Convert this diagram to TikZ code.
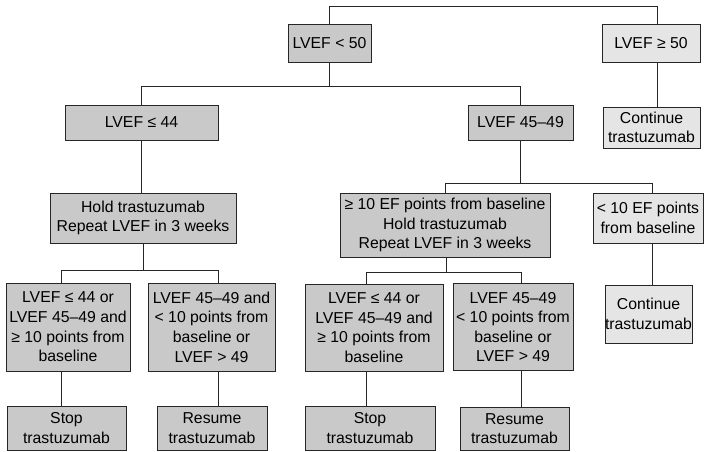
\documentclass[tikz,border=0pt]{standalone}
\usepackage{fontspec}
\setmainfont{Liberation Sans}
\begin{document}
\begin{tikzpicture}[x=1pt,y=-1pt,
  box/.style={draw=black!85,line width=0.8pt,align=center,inner sep=0pt,
     font=\fontsize{15.8}{19.6}\selectfont,anchor=center},
  dark/.style={box,fill=black!21},
  light/.style={box,fill=black!10},
  conn/.style={draw=black!85,line width=0.8pt}]
\useasboundingbox (0,0) rectangle (705,451);
\node[dark,minimum width=83,minimum height=38] (n50) at (329.5,43) {LVEF < 50};
\node[light,minimum width=98,minimum height=38] (g50) at (651,43) {LVEF ≥ 50};
\node[dark,minimum width=153,minimum height=35] (le44) at (141.5,122.5) {LVEF ≤ 44};
\node[dark,minimum width=105,minimum height=35] (m4549) at (520.5,122.5) {LVEF 45–49};
\node[light,minimum width=97,minimum height=41] (cont1) at (651.5,127.5) {Continue\\trastuzumab};
\node[dark,minimum width=186,minimum height=50] (hold) at (143,218) {Hold trastuzumab\\Repeat LVEF in 3 weeks};
\node[dark,minimum width=210,minimum height=64] (ge10) at (445,225) {≥ 10 EF points from baseline\\Hold trastuzumab\\Repeat LVEF in 3 weeks};
\node[light,minimum width=110,minimum height=50] (lt10) at (648,218) {< 10 EF points\\from baseline};
\node[light,minimum width=87,minimum height=58] (cont2) at (648.5,314) {Continue\\trastuzumab};
\node[dark,minimum width=124,minimum height=88] (a1) at (68,327) {LVEF ≤ 44 or\\LVEF 45–49 and\\≥ 10 points from\\baseline};
\node[dark,minimum width=127,minimum height=88] (a2) at (211.5,327) {LVEF 45–49 and\\< 10 points from\\baseline or\\LVEF > 49};
\node[dark,minimum width=138,minimum height=87] (b1) at (374,327.5) {LVEF ≤ 44 or\\LVEF 45–49 and\\≥ 10 points from\\baseline};
\node[dark,minimum width=120,minimum height=87] (b2) at (513,327) {LVEF 45–49\\< 10 points from\\baseline or\\LVEF > 49};
\node[dark,minimum width=119,minimum height=44] (s1) at (66.5,428) {Stop\\trastuzumab};
\node[dark,minimum width=110,minimum height=44] (r1) at (212,428) {Resume\\trastuzumab};
\node[dark,minimum width=130,minimum height=44] (s2) at (370,428) {Stop\\trastuzumab};
\node[dark,minimum width=109,minimum height=43] (r2) at (514.5,428.5) {Resume\\trastuzumab};
% top
\draw[conn] (n50.north) -- ++(0,-17) -| ([xshift=6]g50.north);
\draw[conn] ([xshift=6]g50.south) -- ([xshift=6]g50.south |- cont1.north);
% second level
\draw[conn] (n50.south) -- ++(0,24) -| (m4549.north);
\draw[conn] (n50.south) ++(0,24) -| (le44.north);
\draw[conn] (le44.south) -- (le44.south |- hold.north);
% middle branch
\draw[conn] (m4549.south) -- ++(0,43) -| ([xshift=4]lt10.north);
\draw[conn] (m4549.south) ++(0,43) -| (ge10.north);
\draw[conn] ([xshift=4]lt10.south) -- ([xshift=4]lt10.south |- cont2.north);
% left bottom
\draw[conn] (hold.south) -- ++(0,27) -| ([xshift=-7]a1.north);
\draw[conn] (hold.south) ++(0,27) -| ([xshift=6.5]a2.north);
\draw[conn] ([xshift=-7]a1.south) -- ([xshift=-7]a1.south |- s1.north);
\draw[conn] ([xshift=6.5]a2.south) -- ([xshift=6.5]a2.south |- r1.north);
% middle bottom
\draw[conn] ([xshift=1]ge10.south) -- ++(0,15) -| ([xshift=-8]b1.north);
\draw[conn] ([xshift=1]ge10.south) ++(0,15) -| ([xshift=8]b2.north);
\draw[conn] ([xshift=-8]b1.south) -- ([xshift=-8]b1.south |- s2.north);
\draw[conn] ([xshift=8]b2.south) -- ([xshift=8]b2.south |- r2.north);
\end{tikzpicture}
\end{document}
